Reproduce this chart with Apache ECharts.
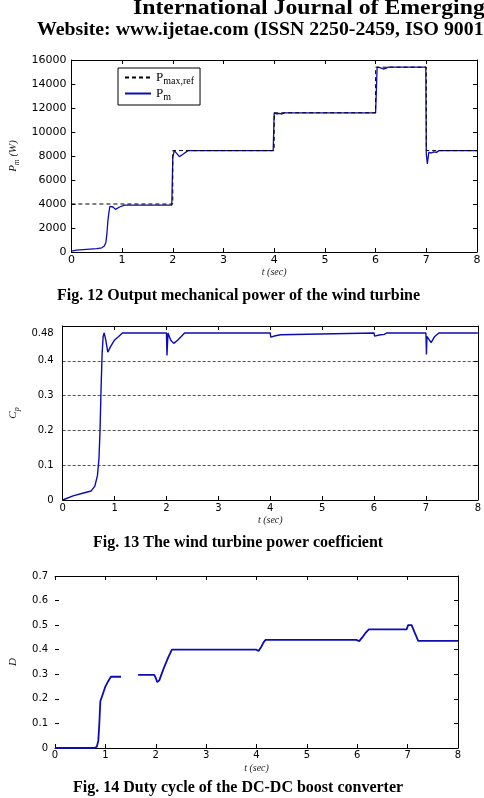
<!DOCTYPE html>
<html>
<head>
<meta charset="utf-8">
<script src="https://cdn.jsdelivr.net/npm/echarts@6/dist/echarts.min.js"></script>
<style>
html, body { margin: 0; padding: 0; background: #fff; }
#chart { width: 484px; height: 798px; }
</style>
</head>
<body>
<div id="chart"></div>
<script>
// =========================
// DATOS
// =========================

// Fig. 12 - potencia de referencia (discontinua)
var prefT = [0, 2, 2, 4, 4, 6, 6, 7, 7, 8];
var prefV = [4000, 4000, 8450, 8450, 11600, 11600, 15400, 15400, 8450, 8450];

// Fig. 12 - potencia mecanica Pm
var pmT = [0, 0.1, 0.3, 0.5, 0.6, 0.65, 0.68, 0.7, 0.72, 0.74,
           0.76, 0.78, 0.82, 0.87, 0.95, 1.05, 1.98, 2.0, 2.03, 2.08,
           2.13, 2.2, 2.3, 3.98, 4.0, 4.05, 4.1, 4.15, 4.2, 6.0,
           6.01, 6.03, 6.1, 6.15, 6.2, 6.25, 6.99, 7.0, 7.02, 7.05,
           7.1, 7.15, 7.2, 7.25, 8];
var pmV = [80, 150, 220, 280, 350, 500, 800, 1500, 2600, 3300,
           3800, 3950, 3750, 3550, 3750, 3900, 3900, 7900, 8450, 8200,
           7950, 8150, 8450, 8450, 11600, 11500, 11550, 11500, 11600, 11600,
           12800, 15400, 15350, 15250, 15300, 15400, 15400, 8200, 7350, 8300,
           8250, 8350, 8300, 8450, 8450];

// Fig. 13 - coeficiente de potencia Cp
var cpT = [0, 0.2, 0.4, 0.55, 0.62, 0.67, 0.7, 0.72, 0.74, 0.76,
           0.78, 0.8, 0.83, 0.87, 0.92, 1.0, 1.08, 1.15, 2.0, 2.01,
           2.03, 2.08, 2.14, 2.22, 2.35, 4.0, 4.01, 4.1, 4.2, 4.22,
           6.0, 6.01, 6.1, 6.2, 6.24, 7.0, 7.01, 7.02, 7.05, 7.1,
           7.17, 7.25, 8];
var cpV = [0, 0.012, 0.02, 0.026, 0.04, 0.07, 0.12, 0.2, 0.32, 0.42,
           0.47, 0.48, 0.46, 0.425, 0.44, 0.46, 0.47, 0.48, 0.48, 0.415,
           0.48, 0.46, 0.45, 0.46, 0.48, 0.48, 0.468, 0.472, 0.475, 0.48,
           0.48, 0.471, 0.474, 0.476, 0.48, 0.48, 0.418, 0.47, 0.47, 0.452,
           0.47, 0.48, 0.48];
var cpLabels = [0, 0.1, 0.2, 0.3, 0.4, 0.48];

// Fig. 14 - ciclo de trabajo D (null = tramo sin datos)
var dT = [0, 0.78, 0.83, 0.86, 0.88, 0.9, 0.95, 1.0, 1.05, 1.11,
          1.31, 1.48, 1.65, 1.97, 2.0, 2.03, 2.07, 2.15, 2.25, 2.32,
          4.0, 4.04, 4.09, 4.14, 4.18, 5.98, 6.04, 6.1, 6.17, 6.23,
          6.98, 7.01, 7.04, 7.08, 7.12, 7.16, 7.21, 8];
var dV = [0, 0, 0.005, 0.03, 0.1, 0.19, 0.22, 0.25, 0.27, 0.29,
          0.29, null, 0.298, 0.298, 0.285, 0.268, 0.275, 0.32, 0.37, 0.40,
          0.40, 0.395, 0.41, 0.43, 0.44, 0.44, 0.435, 0.45, 0.47, 0.483,
          0.483, 0.5, 0.507, 0.5, 0.48, 0.46, 0.436, 0.436];

function pares(t, v) {
  return t.map(function(x, i) { return [x, v[i] === null ? '-' : v[i]]; });
}

var AZUL = '#0c0cb4';
var SERIF = '"Liberation Serif", "DejaVu Serif", serif';
var SANS = '"DejaVu Sans", sans-serif';

function ejeX(grid, tam, margen) {
  return {
    type: 'value', gridIndex: grid, min: 0, max: 8, interval: 1, position: 'bottom',
    axisLine: { show: true, onZero: false, lineStyle: { color: '#000', width: 1 } },
    axisTick: { show: true, inside: true, length: 4, lineStyle: { color: '#000' } },
    axisLabel: { show: true, margin: margen, color: '#000', fontFamily: SANS, fontSize: tam },
    splitLine: { show: false },
    name: 't (sec)', nameLocation: 'middle', nameGap: 15,
    nameTextStyle: { fontFamily: SERIF, fontStyle: 'italic', fontSize: 10, color: '#222' }
  };
}
function ejeXArriba(grid) {
  return {
    type: 'value', gridIndex: grid, min: 0, max: 8, interval: 1, position: 'top',
    axisLine: { show: true, onZero: false, lineStyle: { color: '#000', width: 1 } },
    axisTick: { show: true, inside: true, length: 4, lineStyle: { color: '#000' } },
    axisLabel: { show: false }, splitLine: { show: false }
  };
}
function ejeYDerecha(grid, max, intervalo) {
  return {
    type: 'value', gridIndex: grid, min: 0, max: max, interval: intervalo, position: 'right',
    axisLine: { show: true, onZero: false, lineStyle: { color: '#000', width: 1 } },
    axisTick: { show: true, inside: true, length: 4, lineStyle: { color: '#000' } },
    axisLabel: { show: false }, splitLine: { show: false }
  };
}
function titulo(texto, x, y, tam, escala) {
  return { type: 'text', x: x, y: y, scaleX: escala,
    style: { text: texto, font: 'bold ' + tam + 'px ' + SERIF, fill: '#000', align: 'left', verticalAlign: 'top' } };
}

var option = {
  backgroundColor: '#fff',
  animation: false,
  grid: [
    { left: 69, top: 60, width: 408, height: 192 },
    { left: 60, top: 326, width: 420, height: 174 },
    { left: 50, top: 576, width: 408, height: 172 }
  ],
  legend: {
    data: ['Pref', 'Pm'],
    left: 118, top: 68, orient: 'vertical',
    backgroundColor: '#fff',
    borderColor: '#000', borderWidth: 1,
    padding: [3, 6, 3, 6], itemGap: 1, itemWidth: 26, itemHeight: 12,
    itemStyle: { opacity: 0 },
    formatter: function(n) {
      return n === 'Pref' ? '{b|P}{s|max,ref}' : '{b|P}{s|m}';
    },
    textStyle: {
      color: '#000',
      rich: {
        b: { fontFamily: SERIF, fontSize: 13, color: '#000' },
        s: { fontFamily: SERIF, fontSize: 10, color: '#000', padding: [7, 0, 0, 0] }
      }
    }
  },
  xAxis: [
    ejeX(0, 11, 3), ejeXArriba(0),
    ejeX(1, 10, 3), ejeXArriba(1),
    ejeX(2, 10, 2), ejeXArriba(2)
  ],
  yAxis: [
    {
      type: 'value', gridIndex: 0, min: 0, max: 16000, interval: 2000,
      axisLine: { show: true, onZero: false, lineStyle: { color: '#000' } },
      axisTick: { show: true, inside: true, length: 4, lineStyle: { color: '#000' } },
      axisLabel: { margin: 5, color: '#000', fontFamily: SANS, fontSize: 11,
                   formatter: function(v) { return String(v); } },
      splitLine: { show: false },
      name: '{i|P}{s|m}{i| (W)}', nameLocation: 'middle', nameGap: 50,
      nameTextStyle: {
        rich: {
          i: { fontFamily: SERIF, fontStyle: 'italic', fontSize: 11, color: '#222' },
          s: { fontFamily: SERIF, fontStyle: 'italic', fontSize: 8, color: '#222', padding: [6, 0, 0, 0] }
        }
      }
    },
    ejeYDerecha(0, 16000, 2000),
    {
      type: 'value', gridIndex: 1, min: 0, max: 0.5, interval: 0.1,
      axisLine: { show: true, onZero: false, lineStyle: { color: '#000' } },
      axisTick: { show: false },
      axisLabel: { margin: 9, color: '#000', fontFamily: SANS, fontSize: 10, customValues: cpLabels },
      splitLine: { show: true, lineStyle: { color: '#555', type: [3, 2], width: 1 } },
      name: '{i|C}{s|p}', nameLocation: 'middle', nameGap: 42,
      nameTextStyle: {
        rich: {
          i: { fontFamily: SERIF, fontStyle: 'italic', fontSize: 11, color: '#222' },
          s: { fontFamily: SERIF, fontStyle: 'italic', fontSize: 8, color: '#222', padding: [6, 0, 0, 0] }
        }
      }
    },
    ejeYDerecha(1, 0.5, 0.1),
    {
      type: 'value', gridIndex: 2, min: 0, max: 0.7, interval: 0.1,
      axisLine: { show: false, onZero: false },
      axisTick: { show: true, inside: true, length: 4, lineStyle: { color: '#000' } },
      axisLabel: { margin: 7, color: '#000', fontFamily: SANS, fontSize: 10 },
      splitLine: { show: false },
      name: 'D', nameLocation: 'middle', nameGap: 36,
      nameTextStyle: { fontFamily: SERIF, fontStyle: 'italic', fontSize: 11, color: '#222' }
    },
    ejeYDerecha(2, 0.7, 0.1)
  ],
  series: [
    {
      name: 'Pref', type: 'line', xAxisIndex: 0, yAxisIndex: 0,
      data: pares(prefT, prefV), symbol: 'none', z: 3,
      lineStyle: { color: '#000', width: 1, type: [4, 3] },
      itemStyle: { color: '#000' }
    },
    {
      name: 'Pm', type: 'line', xAxisIndex: 0, yAxisIndex: 0,
      data: pares(pmT, pmV), symbol: 'none', z: 2,
      lineStyle: { color: AZUL, width: 1.3 },
      itemStyle: { color: AZUL }
    },
    {
      name: 'Cp', type: 'line', xAxisIndex: 2, yAxisIndex: 2,
      data: pares(cpT, cpV), symbol: 'none',
      lineStyle: { color: AZUL, width: 1.4 },
      itemStyle: { color: AZUL }
    },
    {
      name: 'D', type: 'line', xAxisIndex: 4, yAxisIndex: 4,
      data: pares(dT, dV), symbol: 'none',
      lineStyle: { color: AZUL, width: 1.8 },
      itemStyle: { color: AZUL }
    }
  ],
  graphic: [
    titulo('International Journal of Emerging', 133, -3, 22, 1.08),
    titulo('Website: www.ijetae.com (ISSN 2250-2459, ISO 9001', 37, 21, 18, 1.1),
    titulo('Fig. 12 Output mechanical power of the wind turbine', 57, 288, 16, 1),
    titulo('Fig. 13 The wind turbine power coefficient', 93, 535, 16, 1),
    titulo('Fig. 14 Duty cycle of the DC-DC boost converter', 73, 780, 16, 1)
  ]
};

echarts.init(document.getElementById('chart')).setOption(option);
</script>
</body>
</html>
